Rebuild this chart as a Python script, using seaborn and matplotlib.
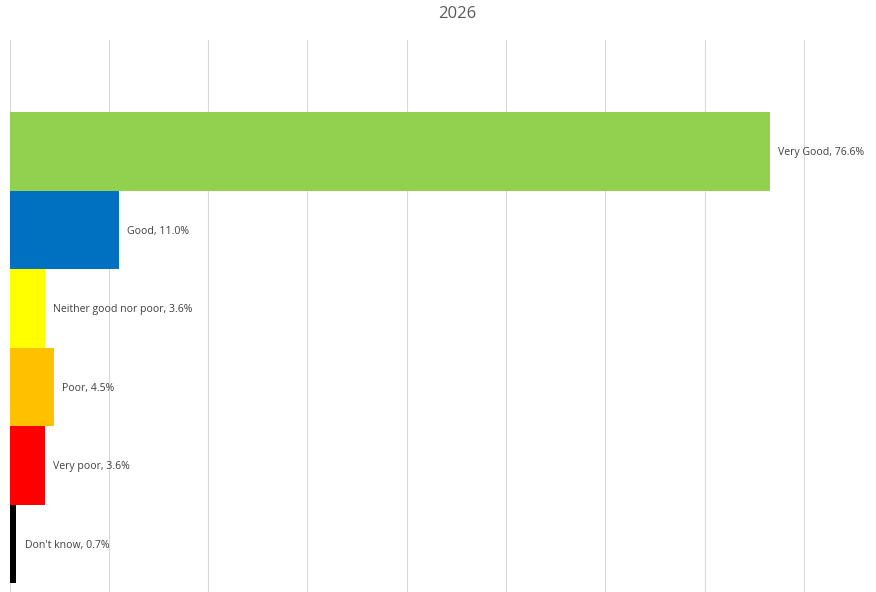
import matplotlib
matplotlib.use("Agg")
import matplotlib.pyplot as plt
import seaborn as sns
import pandas as pd

categories = ["Very Good", "Good", "Neither good nor poor", "Poor", "Very poor", "Don't know"]
values = [76.6, 11.0, 3.6, 4.5, 3.6, 0.7]
colors = ["#92D050", "#0070C0", "#FFFF00", "#FFC000", "#FF0000", "#000000"]
grid_ticks = [0, 10, 20, 30, 40, 50, 60, 70, 80]

df = pd.DataFrame({"categoria": categories, "valor": values})

sns.set_theme(style="white")
plt.rcParams['font.family'] = ['Open Sans', 'DejaVu Sans']

fig = plt.figure(figsize=(8.76, 5.92), dpi=100)
ax = fig.add_axes([9.5 / 876, 0.0, 1 - 9.5 / 876, 1 - 40 / 592])

sns.barplot(x="valor", y="categoria", data=df, hue="categoria", palette=colors,
            dodge=False, legend=False, width=1.0, orient="h", ax=ax,
            linewidth=0, saturation=1)

ax.set_xlim(0, (876 - 9.5) / 9.93)
ax.set_ylim(5.615, -1.42)
ax.set_xticks(grid_ticks)
ax.set_yticks([])
ax.xaxis.grid(True, color="#D9D9D9", linewidth=0.8)
ax.set_axisbelow(True)
ax.tick_params(axis="x", length=0, labelbottom=False)
ax.set_xlabel("")
ax.set_ylabel("")
for s in ax.spines.values():
    s.set_visible(False)

for i, (cat, val) in enumerate(zip(categories, values)):
    ax.annotate(f"{cat}, {val:.1f}%", xy=(val, i), xytext=(5.8, -1.1),
                textcoords="offset points", va="center", ha="left",
                fontsize=7.6, color="#404040")

fig.text(457 / 876, 1 - 14 / 592, "2026", ha="center", va="center",
         fontsize=12, color="#595959")

fig.savefig("out.png", dpi=100)
